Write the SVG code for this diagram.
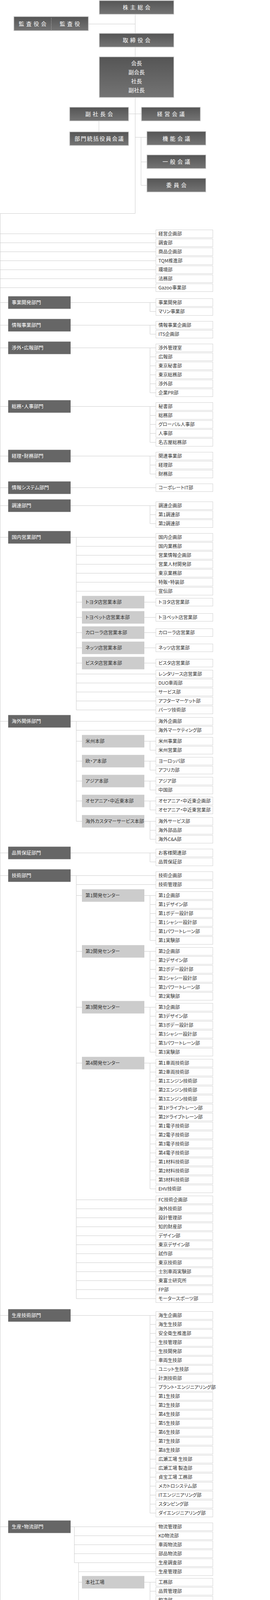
<svg xmlns="http://www.w3.org/2000/svg" width="692" height="5732" viewBox="0 0 692 5732">
<defs>
<linearGradient id="g" x1="0" y1="0" x2="0" y2="1"><stop offset="0" stop-color="#555"/><stop offset="1" stop-color="#747474"/></linearGradient>
<style>
text{font-family:'Noto Sans CJK JP','Noto Sans CJK SC',sans-serif;font-feature-settings:"palt"}
.tb{fill:url(#g);stroke:#ccc;stroke-width:1.5}
.tt{fill:#fff;font-size:14px;letter-spacing:5px;text-anchor:middle;font-feature-settings:normal}
.tn{fill:#fff;font-size:14px;text-anchor:middle}
.dp{fill:#666}
.dt{fill:#fff;font-size:12.5px}
.sb{fill:#ccc}
.st{fill:#333;font-size:12.2px}
.lf{fill:#fff;stroke:#d0d0d0;stroke-width:1}
.lt{fill:#333;font-size:12px}
.ln{fill:none;stroke:#ccc;stroke-width:1}
</style>
</defs>
<rect width="692" height="5732" fill="#fff"/>
<g id="connectors" class="ln">
<path d="M346.5 37V85M227 61.5H346.5M346.5 121V145M346.5 250V546.5H0.5M330 291.5H362M253.5 310V337M346.5 351.5H376M361.5 351.5V474.5H376M361.5 414.5H376"/>
<path d="M0.5 546.5V5713.5H399.5"/>
<path d="M0.5 598.5H399.5M0.5 621.5H399.5M0.5 644.5H399.5M0.5 667.5H399.5M0.5 690.5H399.5M0.5 713.5H399.5M0.5 736.5H399.5"/>
<path d="M0.5 774.5H21M181 774.5H399.5M384.5 774.5V797.5H399.5"/>
<path d="M0.5 832.5H21M181 832.5H399.5M384.5 832.5V855.5H399.5"/>
<path d="M0.5 890.5H21M181 890.5H399.5M384.5 890.5V1005.5H399.5M384.5 913.5H399.5M384.5 936.5H399.5M384.5 959.5H399.5M384.5 982.5H399.5"/>
<path d="M0.5 1040.5H21M181 1040.5H399.5M384.5 1040.5V1132.5H399.5M384.5 1063.5H399.5M384.5 1086.5H399.5M384.5 1109.5H399.5"/>
<path d="M0.5 1167.5H21M181 1167.5H399.5M384.5 1167.5V1213.5H399.5M384.5 1190.5H399.5"/>
<path d="M0.5 1248.5H21M181 1248.5H399.5"/>
<path d="M0.5 1294.5H21M181 1294.5H399.5M384.5 1294.5V1340.5H399.5M384.5 1317.5H399.5"/>
<path d="M0.5 1375.5H21M181 1375.5H399.5M195.5 1375.5V1817.5H399.5M195.5 1398.5H399.5M195.5 1421.5H399.5M195.5 1444.5H399.5M195.5 1467.5H399.5M195.5 1490.5H399.5M195.5 1513.5H399.5M195.5 1725.5H399.5M195.5 1748.5H399.5M195.5 1771.5H399.5M195.5 1794.5H399.5M195.5 1541.5H210M195.5 1580.5H210M195.5 1619.5H210M195.5 1658.5H210M195.5 1697.5H210M370 1541.5H399.5M370 1580.5H399.5M370 1619.5H399.5M370 1658.5H399.5M370 1697.5H399.5"/>
<path d="M0.5 1846.5H21M181 1846.5H399.5M195.5 1846.5V2102.5H210M195.5 1869.5H399.5M195.5 1897.5H210M195.5 1948.5H210M195.5 1999.5H210M195.5 2050.5H210M370 1897.5H399.5M384.5 1897.5V1920.5H399.5M370 1948.5H399.5M384.5 1948.5V1971.5H399.5M370 1999.5H399.5M384.5 1999.5V2022.5H399.5M370 2050.5H399.5M384.5 2050.5V2073.5H399.5M370 2102.5H399.5M384.5 2102.5V2148.5H399.5M384.5 2125.5H399.5"/>
<path d="M0.5 2183.5H21M181 2183.5H399.5M384.5 2183.5V2206.5H399.5"/>
<path d="M0.5 2241.5H21M181 2241.5H399.5M195.5 2241.5V3324.5H399.5M195.5 2264.5H399.5M195.5 2292.5H210M195.5 2435.5H210M195.5 2578.5H210M195.5 2721.5H210M195.5 3071.5H399.5M195.5 3094.5H399.5M195.5 3117.5H399.5M195.5 3140.5H399.5M195.5 3163.5H399.5M195.5 3186.5H399.5M195.5 3209.5H399.5M195.5 3232.5H399.5M195.5 3255.5H399.5M195.5 3278.5H399.5M195.5 3301.5H399.5"/>
<path d="M370 2292.5H399.5M384.5 2292.5V2407.5H399.5M384.5 2315.5H399.5M384.5 2338.5H399.5M384.5 2361.5H399.5M384.5 2384.5H399.5"/>
<path d="M370 2435.5H399.5M384.5 2435.5V2550.5H399.5M384.5 2458.5H399.5M384.5 2481.5H399.5M384.5 2504.5H399.5M384.5 2527.5H399.5"/>
<path d="M370 2578.5H399.5M384.5 2578.5V2693.5H399.5M384.5 2601.5H399.5M384.5 2624.5H399.5M384.5 2647.5H399.5M384.5 2670.5H399.5"/>
<path d="M370 2721.5H399.5M384.5 2721.5V3043.5H399.5M384.5 2744.5H399.5M384.5 2767.5H399.5M384.5 2790.5H399.5M384.5 2813.5H399.5M384.5 2836.5H399.5M384.5 2859.5H399.5M384.5 2882.5H399.5M384.5 2905.5H399.5M384.5 2928.5H399.5M384.5 2951.5H399.5M384.5 2974.5H399.5M384.5 2997.5H399.5M384.5 3020.5H399.5"/>
<path d="M0.5 3367.5H21M181 3367.5H399.5M384.5 3367.5V3873.5H399.5M384.5 3390.5H399.5M384.5 3413.5H399.5M384.5 3436.5H399.5M384.5 3459.5H399.5M384.5 3482.5H399.5M384.5 3505.5H399.5M384.5 3528.5H399.5M384.5 3551.5H399.5M384.5 3574.5H399.5M384.5 3597.5H399.5M384.5 3620.5H399.5M384.5 3643.5H399.5M384.5 3666.5H399.5M384.5 3689.5H399.5M384.5 3712.5H399.5M384.5 3735.5H399.5M384.5 3758.5H399.5M384.5 3781.5H399.5M384.5 3804.5H399.5M384.5 3827.5H399.5M384.5 3850.5H399.5"/>
<path d="M0.5 3908.5H21M181 3908.5H399.5M190.5 3908.5V4000.5H399.5M190.5 3931.5H399.5M190.5 3954.5H399.5M190.5 3977.5H399.5M201.5 4000.5V5085.5H210M201.5 4023.5H399.5M201.5 4050.5H210M201.5 4171.5H210M201.5 4314.5H210M201.5 4434.5H210M201.5 4554.5H210M201.5 4628.5H210M201.5 4794.5H210M201.5 4868.5H210M201.5 4965.5H210"/>
<path d="M370 4050.5H399.5M384.5 4050.5V4142.5H399.5M384.5 4073.5H399.5M384.5 4096.5H399.5M384.5 4119.5H399.5"/>
<path d="M370 4171.5H399.5M384.5 4171.5V4286.5H399.5M384.5 4194.5H399.5M384.5 4217.5H399.5M384.5 4240.5H399.5M384.5 4263.5H399.5"/>
<path d="M370 4314.5H399.5M384.5 4314.5V4406.5H399.5M384.5 4337.5H399.5M384.5 4360.5H399.5M384.5 4383.5H399.5"/>
<path d="M370 4434.5H399.5M384.5 4434.5V4526.5H399.5M384.5 4457.5H399.5M384.5 4480.5H399.5M384.5 4503.5H399.5"/>
<path d="M370 4554.5H399.5M384.5 4554.5V4600.5H399.5M384.5 4577.5H399.5"/>
<path d="M370 4628.5H399.5M384.5 4628.5V4766.5H399.5M384.5 4651.5H399.5M384.5 4674.5H399.5M384.5 4697.5H399.5M384.5 4720.5H399.5M384.5 4743.5H399.5"/>
<path d="M370 4794.5H399.5M384.5 4794.5V4840.5H399.5M384.5 4817.5H399.5"/>
<path d="M370 4868.5H399.5M384.5 4868.5V4937.5H399.5M384.5 4891.5H399.5M384.5 4914.5H399.5"/>
<path d="M370 4965.5H399.5M384.5 4965.5V5057.5H399.5M384.5 4988.5H399.5M384.5 5011.5H399.5M384.5 5034.5H399.5"/>
<path d="M370 5085.5H399.5M384.5 5085.5V5246.5H399.5M384.5 5108.5H399.5M384.5 5131.5H399.5M384.5 5154.5H399.5M384.5 5177.5H399.5M384.5 5200.5H399.5M384.5 5223.5H399.5"/>
<path d="M0.5 5281.5H21M181 5281.5H399.5M384.5 5281.5V5350.5H399.5M384.5 5304.5H399.5M384.5 5327.5H399.5"/>
<path d="M0.5 5385.5H21M181 5385.5H399.5M384.5 5385.5V5523.5H399.5M384.5 5408.5H399.5M384.5 5431.5H399.5M384.5 5454.5H399.5M384.5 5477.5H399.5M384.5 5500.5H399.5"/>
<path d="M0.5 5559.5H399.5M384.5 5559.5V5605.5H399.5M384.5 5582.5H399.5"/>
<path d="M0.5 5646.5H21M181 5646.5H399.5M384.5 5646.5V5669.5H399.5"/>
</g>
<g id="kabunushi"><rect class="tb" x="254.5" y="1.5" width="191" height="35"/><text class="tt" x="352.5" y="24">株主総会</text></g>
<g id="kansa"><rect class="tb" x="35.5" y="42.5" width="191" height="36"/><line x1="131.5" y1="46" x2="131.5" y2="76" stroke="#bbb" stroke-dasharray="2 2"/><text class="tt" x="86" y="66">監査役会</text><text class="tt" x="181.5" y="66">監査役</text></g>
<g id="torishimari"><rect class="tb" x="254.5" y="85.5" width="191" height="35"/><text class="tt" x="352.5" y="108">取締役会</text></g>
<g id="kaicho"><rect class="tb" x="254.5" y="145.5" width="191" height="104"/><text class="tn" x="350" y="167">会長</text><text class="tn" x="350" y="190">副会長</text><text class="tn" x="350" y="213">社長</text><text class="tn" x="350" y="236">副社長</text></g>
<g id="fukushacho"><rect class="tb" x="178.5" y="274.5" width="151" height="35"/><text class="tt" x="256.5" y="297">副社長会</text></g>
<g id="keiei"><rect class="tb" x="362.5" y="274.5" width="151" height="35"/><text class="tt" x="440.5" y="297">経営会議</text></g>
<g id="bumon"><rect class="tb" x="178.5" y="337.5" width="151" height="35"/><text class="tt" x="255" y="360" style="letter-spacing:2px">部門統括役員会議</text></g>
<g id="kino"><rect class="tb" x="376.5" y="336.5" width="151" height="35"/><text class="tt" x="454.5" y="359.5">機能会議</text></g>
<g id="ippan"><rect class="tb" x="376.5" y="396.5" width="151" height="35"/><text class="tt" x="454.5" y="419">一般会議</text></g>
<g id="iinkai"><rect class="tb" x="376.5" y="456.5" width="151" height="35"/><text class="tt" x="454.5" y="479">委員会</text></g>

<g id="d1"><rect class="dp" x="21" y="758.5" width="160" height="32"/><text class="dt" x="30" y="779">事業開発部門</text></g>
<g id="d2"><rect class="dp" x="21" y="816.5" width="160" height="32"/><text class="dt" x="30" y="837">情報事業部門</text></g>
<g id="d3"><rect class="dp" x="21" y="874.5" width="160" height="32"/><text class="dt" x="30" y="895">渉外・広報部門</text></g>
<g id="d4"><rect class="dp" x="21" y="1024.5" width="160" height="32"/><text class="dt" x="30" y="1045">総務・人事部門</text></g>
<g id="d5"><rect class="dp" x="21" y="1151.5" width="160" height="32"/><text class="dt" x="30" y="1172">経理・財務部門</text></g>
<g id="d6"><rect class="dp" x="21" y="1232.5" width="160" height="32"/><text class="dt" x="30" y="1253">情報システム部門</text></g>
<g id="d7"><rect class="dp" x="21" y="1278.5" width="160" height="32"/><text class="dt" x="30" y="1299">調達部門</text></g>
<g id="d8"><rect class="dp" x="21" y="1359.5" width="160" height="32"/><text class="dt" x="30" y="1380">国内営業部門</text></g>
<g id="d9"><rect class="dp" x="21" y="1830.5" width="160" height="32"/><text class="dt" x="30" y="1851">海外関係部門</text></g>
<g id="d10"><rect class="dp" x="21" y="2167.5" width="160" height="32"/><text class="dt" x="30" y="2188">品質保証部門</text></g>
<g id="d11"><rect class="dp" x="21" y="2225.5" width="160" height="32"/><text class="dt" x="30" y="2246">技術部門</text></g>
<g id="d12"><rect class="dp" x="21" y="3351.5" width="160" height="32"/><text class="dt" x="30" y="3372">生産技術部門</text></g>
<g id="d13"><rect class="dp" x="21" y="3892.5" width="160" height="32"/><text class="dt" x="30" y="3913">生産・物流部門</text></g>
<g id="d14"><rect class="dp" x="21" y="5265.5" width="160" height="32"/><text class="dt" x="30" y="5286">L&amp;F事業部門</text></g>
<g id="d15"><rect class="dp" x="21" y="5369.5" width="160" height="32"/><text class="dt" x="30" y="5390">住宅事業部門</text></g>
<g id="d16"><rect class="sb" x="21" y="5630.5" width="160" height="32"/><text class="st" x="30" y="5651">海外事務所</text></g>

<g id="s1"><rect class="sb" x="210" y="1525.5" width="160" height="32"/><text class="st" x="219" y="1546">トヨタ店営業本部</text></g>
<g id="s2"><rect class="sb" x="210" y="1564.5" width="160" height="32"/><text class="st" x="219" y="1585">トヨペット店営業本部</text></g>
<g id="s3"><rect class="sb" x="210" y="1603.5" width="160" height="32"/><text class="st" x="219" y="1624">カローラ店営業本部</text></g>
<g id="s4"><rect class="sb" x="210" y="1642.5" width="160" height="32"/><text class="st" x="219" y="1663">ネッツ店営業本部</text></g>
<g id="s5"><rect class="sb" x="210" y="1681.5" width="160" height="32"/><text class="st" x="219" y="1702">ビスタ店営業本部</text></g>
<g id="s6"><rect class="sb" x="210" y="1881.5" width="160" height="32"/><text class="st" x="219" y="1902">米州本部</text></g>
<g id="s7"><rect class="sb" x="210" y="1932.5" width="160" height="32"/><text class="st" x="219" y="1953">欧・ア本部</text></g>
<g id="s8"><rect class="sb" x="210" y="1983.5" width="160" height="32"/><text class="st" x="219" y="2004">アジア本部</text></g>
<g id="s9"><rect class="sb" x="210" y="2034.5" width="160" height="32"/><text class="st" x="219" y="2055">オセアニア・中近東本部</text></g>
<g id="s10"><rect class="sb" x="210" y="2086.5" width="160" height="32"/><text class="st" x="219" y="2107">海外カスタマーサービス本部</text></g>
<g id="s11"><rect class="sb" x="210" y="2276.5" width="160" height="32"/><text class="st" x="219" y="2297">第1開発センター</text></g>
<g id="s12"><rect class="sb" x="210" y="2419.5" width="160" height="32"/><text class="st" x="219" y="2440">第2開発センター</text></g>
<g id="s13"><rect class="sb" x="210" y="2562.5" width="160" height="32"/><text class="st" x="219" y="2583">第3開発センター</text></g>
<g id="s14"><rect class="sb" x="210" y="2705.5" width="160" height="32"/><text class="st" x="219" y="2726">第4開発センター</text></g>
<g id="s15"><rect class="sb" x="210" y="4034.5" width="160" height="32"/><text class="st" x="219" y="4055">本社工場</text></g>
<g id="s16"><rect class="sb" x="210" y="4155.5" width="160" height="32"/><text class="st" x="219" y="4176">元町工場</text></g>
<g id="s17"><rect class="sb" x="210" y="4298.5" width="160" height="32"/><text class="st" x="219" y="4319">上郷工場</text></g>
<g id="s18"><rect class="sb" x="210" y="4418.5" width="160" height="32"/><text class="st" x="219" y="4439">高岡工場</text></g>
<g id="s19"><rect class="sb" x="210" y="4538.5" width="160" height="32"/><text class="st" x="219" y="4559">三好工場</text></g>
<g id="s20"><rect class="sb" x="210" y="4612.5" width="160" height="32"/><text class="st" x="219" y="4633">堤工場</text></g>
<g id="s21"><rect class="sb" x="210" y="4778.5" width="160" height="32"/><text class="st" x="219" y="4799">明知工場</text></g>
<g id="s22"><rect class="sb" x="210" y="4852.5" width="160" height="32"/><text class="st" x="219" y="4873">下山工場</text></g>
<g id="s23"><rect class="sb" x="210" y="4949.5" width="160" height="32"/><text class="st" x="219" y="4970">衣浦工場</text></g>
<g id="s24"><rect class="sb" x="210" y="5069.5" width="160" height="32"/><text class="st" x="219" y="5090">田原工場</text></g>

<g id="l1"><rect class="lf" x="399.5" y="588.5" width="146" height="20"/><text class="lt" x="406" y="603">経営企画部</text></g>
<g id="l2"><rect class="lf" x="399.5" y="611.5" width="146" height="20"/><text class="lt" x="406" y="626">調査部</text></g>
<g id="l3"><rect class="lf" x="399.5" y="634.5" width="146" height="20"/><text class="lt" x="406" y="649">商品企画部</text></g>
<g id="l4"><rect class="lf" x="399.5" y="657.5" width="146" height="20"/><text class="lt" x="406" y="672">TQM推進部</text></g>
<g id="l5"><rect class="lf" x="399.5" y="680.5" width="146" height="20"/><text class="lt" x="406" y="695">環境部</text></g>
<g id="l6"><rect class="lf" x="399.5" y="703.5" width="146" height="20"/><text class="lt" x="406" y="718">法務部</text></g>
<g id="l7"><rect class="lf" x="399.5" y="726.5" width="146" height="20"/><text class="lt" x="406" y="741">Gazoo事業部</text></g>
<g id="l8"><rect class="lf" x="399.5" y="764.5" width="146" height="20"/><text class="lt" x="406" y="779">事業開発部</text></g>
<g id="l9"><rect class="lf" x="399.5" y="787.5" width="146" height="20"/><text class="lt" x="406" y="802">マリン事業部</text></g>
<g id="l10"><rect class="lf" x="399.5" y="822.5" width="146" height="20"/><text class="lt" x="406" y="837">情報事業企画部</text></g>
<g id="l11"><rect class="lf" x="399.5" y="845.5" width="146" height="20"/><text class="lt" x="406" y="860">ITS企画部</text></g>
<g id="l12"><rect class="lf" x="399.5" y="880.5" width="146" height="20"/><text class="lt" x="406" y="895">渉外管理室</text></g>
<g id="l13"><rect class="lf" x="399.5" y="903.5" width="146" height="20"/><text class="lt" x="406" y="918">広報部</text></g>
<g id="l14"><rect class="lf" x="399.5" y="926.5" width="146" height="20"/><text class="lt" x="406" y="941">東京秘書部</text></g>
<g id="l15"><rect class="lf" x="399.5" y="949.5" width="146" height="20"/><text class="lt" x="406" y="964">東京総務部</text></g>
<g id="l16"><rect class="lf" x="399.5" y="972.5" width="146" height="20"/><text class="lt" x="406" y="987">渉外部</text></g>
<g id="l17"><rect class="lf" x="399.5" y="995.5" width="146" height="20"/><text class="lt" x="406" y="1010">企業PR部</text></g>
<g id="l18"><rect class="lf" x="399.5" y="1030.5" width="146" height="20"/><text class="lt" x="406" y="1045">秘書部</text></g>
<g id="l19"><rect class="lf" x="399.5" y="1053.5" width="146" height="20"/><text class="lt" x="406" y="1068">総務部</text></g>
<g id="l20"><rect class="lf" x="399.5" y="1076.5" width="146" height="20"/><text class="lt" x="406" y="1091">グローバル人事部</text></g>
<g id="l21"><rect class="lf" x="399.5" y="1099.5" width="146" height="20"/><text class="lt" x="406" y="1114">人事部</text></g>
<g id="l22"><rect class="lf" x="399.5" y="1122.5" width="146" height="20"/><text class="lt" x="406" y="1137">名古屋総務部</text></g>
<g id="l23"><rect class="lf" x="399.5" y="1157.5" width="146" height="20"/><text class="lt" x="406" y="1172">関連事業部</text></g>
<g id="l24"><rect class="lf" x="399.5" y="1180.5" width="146" height="20"/><text class="lt" x="406" y="1195">経理部</text></g>
<g id="l25"><rect class="lf" x="399.5" y="1203.5" width="146" height="20"/><text class="lt" x="406" y="1218">財務部</text></g>
<g id="l26"><rect class="lf" x="399.5" y="1238.5" width="146" height="20"/><text class="lt" x="406" y="1253">コーポレートIT部</text></g>
<g id="l27"><rect class="lf" x="399.5" y="1284.5" width="146" height="20"/><text class="lt" x="406" y="1299">調達企画部</text></g>
<g id="l28"><rect class="lf" x="399.5" y="1307.5" width="146" height="20"/><text class="lt" x="406" y="1322">第1調達部</text></g>
<g id="l29"><rect class="lf" x="399.5" y="1330.5" width="146" height="20"/><text class="lt" x="406" y="1345">第2調達部</text></g>
<g id="l30"><rect class="lf" x="399.5" y="1365.5" width="146" height="20"/><text class="lt" x="406" y="1380">国内企画部</text></g>
<g id="l31"><rect class="lf" x="399.5" y="1388.5" width="146" height="20"/><text class="lt" x="406" y="1403">国内業務部</text></g>
<g id="l32"><rect class="lf" x="399.5" y="1411.5" width="146" height="20"/><text class="lt" x="406" y="1426">営業情報企画部</text></g>
<g id="l33"><rect class="lf" x="399.5" y="1434.5" width="146" height="20"/><text class="lt" x="406" y="1449">営業人材開発部</text></g>
<g id="l34"><rect class="lf" x="399.5" y="1457.5" width="146" height="20"/><text class="lt" x="406" y="1472">東京業務部</text></g>
<g id="l35"><rect class="lf" x="399.5" y="1480.5" width="146" height="20"/><text class="lt" x="406" y="1495">特販・特装部</text></g>
<g id="l36"><rect class="lf" x="399.5" y="1503.5" width="146" height="20"/><text class="lt" x="406" y="1518">宣伝部</text></g>
<g id="l37"><rect class="lf" x="399.5" y="1531.5" width="146" height="20"/><text class="lt" x="406" y="1546">トヨタ店営業部</text></g>
<g id="l38"><rect class="lf" x="399.5" y="1570.5" width="146" height="20"/><text class="lt" x="406" y="1585">トヨペット店営業部</text></g>
<g id="l39"><rect class="lf" x="399.5" y="1609.5" width="146" height="20"/><text class="lt" x="406" y="1624">カローラ店営業部</text></g>
<g id="l40"><rect class="lf" x="399.5" y="1648.5" width="146" height="20"/><text class="lt" x="406" y="1663">ネッツ店営業部</text></g>
<g id="l41"><rect class="lf" x="399.5" y="1687.5" width="146" height="20"/><text class="lt" x="406" y="1702">ビスタ店営業部</text></g>
<g id="l42"><rect class="lf" x="399.5" y="1715.5" width="146" height="20"/><text class="lt" x="406" y="1730">レンタリース店営業部</text></g>
<g id="l43"><rect class="lf" x="399.5" y="1738.5" width="146" height="20"/><text class="lt" x="406" y="1753">DUO車両部</text></g>
<g id="l44"><rect class="lf" x="399.5" y="1761.5" width="146" height="20"/><text class="lt" x="406" y="1776">サービス部</text></g>
<g id="l45"><rect class="lf" x="399.5" y="1784.5" width="146" height="20"/><text class="lt" x="406" y="1799">アフターマーケット部</text></g>
<g id="l46"><rect class="lf" x="399.5" y="1807.5" width="146" height="20"/><text class="lt" x="406" y="1822">パーツ技術部</text></g>
<g id="l47"><rect class="lf" x="399.5" y="1836.5" width="146" height="20"/><text class="lt" x="406" y="1851">海外企画部</text></g>
<g id="l48"><rect class="lf" x="399.5" y="1859.5" width="146" height="20"/><text class="lt" x="406" y="1874">海外マーケティング部</text></g>
<g id="l49"><rect class="lf" x="399.5" y="1887.5" width="146" height="20"/><text class="lt" x="406" y="1902">米州事業部</text></g>
<g id="l50"><rect class="lf" x="399.5" y="1910.5" width="146" height="20"/><text class="lt" x="406" y="1925">米州営業部</text></g>
<g id="l51"><rect class="lf" x="399.5" y="1938.5" width="146" height="20"/><text class="lt" x="406" y="1953">ヨーロッパ部</text></g>
<g id="l52"><rect class="lf" x="399.5" y="1961.5" width="146" height="20"/><text class="lt" x="406" y="1976">アフリカ部</text></g>
<g id="l53"><rect class="lf" x="399.5" y="1989.5" width="146" height="20"/><text class="lt" x="406" y="2004">アジア部</text></g>
<g id="l54"><rect class="lf" x="399.5" y="2012.5" width="146" height="20"/><text class="lt" x="406" y="2027">中国部</text></g>
<g id="l55"><rect class="lf" x="399.5" y="2040.5" width="146" height="20"/><text class="lt" x="406" y="2055">オセアニア・中近東企画部</text></g>
<g id="l56"><rect class="lf" x="399.5" y="2063.5" width="146" height="20"/><text class="lt" x="406" y="2078">オセアニア・中近東営業部</text></g>
<g id="l57"><rect class="lf" x="399.5" y="2092.5" width="146" height="20"/><text class="lt" x="406" y="2107">海外サービス部</text></g>
<g id="l58"><rect class="lf" x="399.5" y="2115.5" width="146" height="20"/><text class="lt" x="406" y="2130">海外部品部</text></g>
<g id="l59"><rect class="lf" x="399.5" y="2138.5" width="146" height="20"/><text class="lt" x="406" y="2153">海外C&amp;A部</text></g>
<g id="l60"><rect class="lf" x="399.5" y="2173.5" width="146" height="20"/><text class="lt" x="406" y="2188">お客様関連部</text></g>
<g id="l61"><rect class="lf" x="399.5" y="2196.5" width="146" height="20"/><text class="lt" x="406" y="2211">品質保証部</text></g>
<g id="l62"><rect class="lf" x="399.5" y="2231.5" width="146" height="20"/><text class="lt" x="406" y="2246">技術企画部</text></g>
<g id="l63"><rect class="lf" x="399.5" y="2254.5" width="146" height="20"/><text class="lt" x="406" y="2269">技術管理部</text></g>
<g id="l64"><rect class="lf" x="399.5" y="2282.5" width="146" height="20"/><text class="lt" x="406" y="2297">第1企画部</text></g>
<g id="l65"><rect class="lf" x="399.5" y="2305.5" width="146" height="20"/><text class="lt" x="406" y="2320">第1デザイン部</text></g>
<g id="l66"><rect class="lf" x="399.5" y="2328.5" width="146" height="20"/><text class="lt" x="406" y="2343">第1ボデー設計部</text></g>
<g id="l67"><rect class="lf" x="399.5" y="2351.5" width="146" height="20"/><text class="lt" x="406" y="2366">第1シャシー設計部</text></g>
<g id="l68"><rect class="lf" x="399.5" y="2374.5" width="146" height="20"/><text class="lt" x="406" y="2389">第1パワートレーン部</text></g>
<g id="l69"><rect class="lf" x="399.5" y="2397.5" width="146" height="20"/><text class="lt" x="406" y="2412">第1実験部</text></g>
<g id="l70"><rect class="lf" x="399.5" y="2425.5" width="146" height="20"/><text class="lt" x="406" y="2440">第2企画部</text></g>
<g id="l71"><rect class="lf" x="399.5" y="2448.5" width="146" height="20"/><text class="lt" x="406" y="2463">第2デザイン部</text></g>
<g id="l72"><rect class="lf" x="399.5" y="2471.5" width="146" height="20"/><text class="lt" x="406" y="2486">第2ボデー設計部</text></g>
<g id="l73"><rect class="lf" x="399.5" y="2494.5" width="146" height="20"/><text class="lt" x="406" y="2509">第2シャシー設計部</text></g>
<g id="l74"><rect class="lf" x="399.5" y="2517.5" width="146" height="20"/><text class="lt" x="406" y="2532">第2パワートレーン部</text></g>
<g id="l75"><rect class="lf" x="399.5" y="2540.5" width="146" height="20"/><text class="lt" x="406" y="2555">第2実験部</text></g>
<g id="l76"><rect class="lf" x="399.5" y="2568.5" width="146" height="20"/><text class="lt" x="406" y="2583">第3企画部</text></g>
<g id="l77"><rect class="lf" x="399.5" y="2591.5" width="146" height="20"/><text class="lt" x="406" y="2606">第3デザイン部</text></g>
<g id="l78"><rect class="lf" x="399.5" y="2614.5" width="146" height="20"/><text class="lt" x="406" y="2629">第3ボデー設計部</text></g>
<g id="l79"><rect class="lf" x="399.5" y="2637.5" width="146" height="20"/><text class="lt" x="406" y="2652">第3シャシー設計部</text></g>
<g id="l80"><rect class="lf" x="399.5" y="2660.5" width="146" height="20"/><text class="lt" x="406" y="2675">第3パワートレーン部</text></g>
<g id="l81"><rect class="lf" x="399.5" y="2683.5" width="146" height="20"/><text class="lt" x="406" y="2698">第3実験部</text></g>
<g id="l82"><rect class="lf" x="399.5" y="2711.5" width="146" height="20"/><text class="lt" x="406" y="2726">第1車両技術部</text></g>
<g id="l83"><rect class="lf" x="399.5" y="2734.5" width="146" height="20"/><text class="lt" x="406" y="2749">第2車両技術部</text></g>
<g id="l84"><rect class="lf" x="399.5" y="2757.5" width="146" height="20"/><text class="lt" x="406" y="2772">第1エンジン技術部</text></g>
<g id="l85"><rect class="lf" x="399.5" y="2780.5" width="146" height="20"/><text class="lt" x="406" y="2795">第2エンジン技術部</text></g>
<g id="l86"><rect class="lf" x="399.5" y="2803.5" width="146" height="20"/><text class="lt" x="406" y="2818">第3エンジン技術部</text></g>
<g id="l87"><rect class="lf" x="399.5" y="2826.5" width="146" height="20"/><text class="lt" x="406" y="2841">第1ドライブトレーン部</text></g>
<g id="l88"><rect class="lf" x="399.5" y="2849.5" width="146" height="20"/><text class="lt" x="406" y="2864">第2ドライブトレーン部</text></g>
<g id="l89"><rect class="lf" x="399.5" y="2872.5" width="146" height="20"/><text class="lt" x="406" y="2887">第1電子技術部</text></g>
<g id="l90"><rect class="lf" x="399.5" y="2895.5" width="146" height="20"/><text class="lt" x="406" y="2910">第2電子技術部</text></g>
<g id="l91"><rect class="lf" x="399.5" y="2918.5" width="146" height="20"/><text class="lt" x="406" y="2933">第3電子技術部</text></g>
<g id="l92"><rect class="lf" x="399.5" y="2941.5" width="146" height="20"/><text class="lt" x="406" y="2956">第4電子技術部</text></g>
<g id="l93"><rect class="lf" x="399.5" y="2964.5" width="146" height="20"/><text class="lt" x="406" y="2979">第1材料技術部</text></g>
<g id="l94"><rect class="lf" x="399.5" y="2987.5" width="146" height="20"/><text class="lt" x="406" y="3002">第2材料技術部</text></g>
<g id="l95"><rect class="lf" x="399.5" y="3010.5" width="146" height="20"/><text class="lt" x="406" y="3025">第3材料技術部</text></g>
<g id="l96"><rect class="lf" x="399.5" y="3033.5" width="146" height="20"/><text class="lt" x="406" y="3048">EHV技術部</text></g>
<g id="l97"><rect class="lf" x="399.5" y="3061.5" width="146" height="20"/><text class="lt" x="406" y="3076">FC技術企画部</text></g>
<g id="l98"><rect class="lf" x="399.5" y="3084.5" width="146" height="20"/><text class="lt" x="406" y="3099">海外技術部</text></g>
<g id="l99"><rect class="lf" x="399.5" y="3107.5" width="146" height="20"/><text class="lt" x="406" y="3122">設計管理部</text></g>
<g id="l100"><rect class="lf" x="399.5" y="3130.5" width="146" height="20"/><text class="lt" x="406" y="3145">知的財産部</text></g>
<g id="l101"><rect class="lf" x="399.5" y="3153.5" width="146" height="20"/><text class="lt" x="406" y="3168">デザイン部</text></g>
<g id="l102"><rect class="lf" x="399.5" y="3176.5" width="146" height="20"/><text class="lt" x="406" y="3191">東京デザイン部</text></g>
<g id="l103"><rect class="lf" x="399.5" y="3199.5" width="146" height="20"/><text class="lt" x="406" y="3214">試作部</text></g>
<g id="l104"><rect class="lf" x="399.5" y="3222.5" width="146" height="20"/><text class="lt" x="406" y="3237">東京技術部</text></g>
<g id="l105"><rect class="lf" x="399.5" y="3245.5" width="146" height="20"/><text class="lt" x="406" y="3260">士別車両実験部</text></g>
<g id="l106"><rect class="lf" x="399.5" y="3268.5" width="146" height="20"/><text class="lt" x="406" y="3283">東富士研究所</text></g>
<g id="l107"><rect class="lf" x="399.5" y="3291.5" width="146" height="20"/><text class="lt" x="406" y="3306">FP部</text></g>
<g id="l108"><rect class="lf" x="399.5" y="3314.5" width="146" height="20"/><text class="lt" x="406" y="3329">モータースポーツ部</text></g>
<g id="l109"><rect class="lf" x="399.5" y="3357.5" width="146" height="20"/><text class="lt" x="406" y="3372">海生企画部</text></g>
<g id="l110"><rect class="lf" x="399.5" y="3380.5" width="146" height="20"/><text class="lt" x="406" y="3395">海生生技部</text></g>
<g id="l111"><rect class="lf" x="399.5" y="3403.5" width="146" height="20"/><text class="lt" x="406" y="3418">安全衛生推進部</text></g>
<g id="l112"><rect class="lf" x="399.5" y="3426.5" width="146" height="20"/><text class="lt" x="406" y="3441">生技管理部</text></g>
<g id="l113"><rect class="lf" x="399.5" y="3449.5" width="146" height="20"/><text class="lt" x="406" y="3464">生技開発部</text></g>
<g id="l114"><rect class="lf" x="399.5" y="3472.5" width="146" height="20"/><text class="lt" x="406" y="3487">車両生技部</text></g>
<g id="l115"><rect class="lf" x="399.5" y="3495.5" width="146" height="20"/><text class="lt" x="406" y="3510">ユニット生技部</text></g>
<g id="l116"><rect class="lf" x="399.5" y="3518.5" width="146" height="20"/><text class="lt" x="406" y="3533">計測技術部</text></g>
<g id="l117"><rect class="lf" x="399.5" y="3541.5" width="146" height="20"/><text class="lt" x="406" y="3556">プラント・エンジニアリング部</text></g>
<g id="l118"><rect class="lf" x="399.5" y="3564.5" width="146" height="20"/><text class="lt" x="406" y="3579">第1生技部</text></g>
<g id="l119"><rect class="lf" x="399.5" y="3587.5" width="146" height="20"/><text class="lt" x="406" y="3602">第2生技部</text></g>
<g id="l120"><rect class="lf" x="399.5" y="3610.5" width="146" height="20"/><text class="lt" x="406" y="3625">第4生技部</text></g>
<g id="l121"><rect class="lf" x="399.5" y="3633.5" width="146" height="20"/><text class="lt" x="406" y="3648">第5生技部</text></g>
<g id="l122"><rect class="lf" x="399.5" y="3656.5" width="146" height="20"/><text class="lt" x="406" y="3671">第6生技部</text></g>
<g id="l123"><rect class="lf" x="399.5" y="3679.5" width="146" height="20"/><text class="lt" x="406" y="3694">第7生技部</text></g>
<g id="l124"><rect class="lf" x="399.5" y="3702.5" width="146" height="20"/><text class="lt" x="406" y="3717">第8生技部</text></g>
<g id="l125"><rect class="lf" x="399.5" y="3725.5" width="146" height="20"/><text class="lt" x="406" y="3740">広瀬工場 生技部</text></g>
<g id="l126"><rect class="lf" x="399.5" y="3748.5" width="146" height="20"/><text class="lt" x="406" y="3763">広瀬工場 製造部</text></g>
<g id="l127"><rect class="lf" x="399.5" y="3771.5" width="146" height="20"/><text class="lt" x="406" y="3786">貞宝工場 工務部</text></g>
<g id="l128"><rect class="lf" x="399.5" y="3794.5" width="146" height="20"/><text class="lt" x="406" y="3809">メカトロシステム部</text></g>
<g id="l129"><rect class="lf" x="399.5" y="3817.5" width="146" height="20"/><text class="lt" x="406" y="3832">ITエンジニアリング部</text></g>
<g id="l130"><rect class="lf" x="399.5" y="3840.5" width="146" height="20"/><text class="lt" x="406" y="3855">スタンピング部</text></g>
<g id="l131"><rect class="lf" x="399.5" y="3863.5" width="146" height="20"/><text class="lt" x="406" y="3878">ダイエンジニアリング部</text></g>
<g id="l132"><rect class="lf" x="399.5" y="3898.5" width="146" height="20"/><text class="lt" x="406" y="3913">物流管理部</text></g>
<g id="l133"><rect class="lf" x="399.5" y="3921.5" width="146" height="20"/><text class="lt" x="406" y="3936">KD物流部</text></g>
<g id="l134"><rect class="lf" x="399.5" y="3944.5" width="146" height="20"/><text class="lt" x="406" y="3959">車両物流部</text></g>
<g id="l135"><rect class="lf" x="399.5" y="3967.5" width="146" height="20"/><text class="lt" x="406" y="3982">部品物流部</text></g>
<g id="l136"><rect class="lf" x="399.5" y="3990.5" width="146" height="20"/><text class="lt" x="406" y="4005">生産調査部</text></g>
<g id="l137"><rect class="lf" x="399.5" y="4013.5" width="146" height="20"/><text class="lt" x="406" y="4028">生産管理部</text></g>
<g id="l138"><rect class="lf" x="399.5" y="4040.5" width="146" height="20"/><text class="lt" x="406" y="4055">工務部</text></g>
<g id="l139"><rect class="lf" x="399.5" y="4063.5" width="146" height="20"/><text class="lt" x="406" y="4078">品質管理部</text></g>
<g id="l140"><rect class="lf" x="399.5" y="4086.5" width="146" height="20"/><text class="lt" x="406" y="4101">鍛造部</text></g>
<g id="l141"><rect class="lf" x="399.5" y="4109.5" width="146" height="20"/><text class="lt" x="406" y="4124">機械部</text></g>
<g id="l142"><rect class="lf" x="399.5" y="4132.5" width="146" height="20"/><text class="lt" x="406" y="4147">シャシー製造部</text></g>
<g id="l143"><rect class="lf" x="399.5" y="4161.5" width="146" height="20"/><text class="lt" x="406" y="4176">工務部</text></g>
<g id="l144"><rect class="lf" x="399.5" y="4184.5" width="146" height="20"/><text class="lt" x="406" y="4199">品質管理部</text></g>
<g id="l145"><rect class="lf" x="399.5" y="4207.5" width="146" height="20"/><text class="lt" x="406" y="4222">車体部</text></g>
<g id="l146"><rect class="lf" x="399.5" y="4230.5" width="146" height="20"/><text class="lt" x="406" y="4245">機械部</text></g>
<g id="l147"><rect class="lf" x="399.5" y="4253.5" width="146" height="20"/><text class="lt" x="406" y="4268">成形部</text></g>
<g id="l148"><rect class="lf" x="399.5" y="4276.5" width="146" height="20"/><text class="lt" x="406" y="4291">総組立部</text></g>
<g id="l149"><rect class="lf" x="399.5" y="4304.5" width="146" height="20"/><text class="lt" x="406" y="4319">工務部</text></g>
<g id="l150"><rect class="lf" x="399.5" y="4327.5" width="146" height="20"/><text class="lt" x="406" y="4342">製造エンジニアリング部</text></g>
<g id="l151"><rect class="lf" x="399.5" y="4350.5" width="146" height="20"/><text class="lt" x="406" y="4365">鋳造部</text></g>
<g id="l152"><rect class="lf" x="399.5" y="4373.5" width="146" height="20"/><text class="lt" x="406" y="4388">第1機械部</text></g>
<g id="l153"><rect class="lf" x="399.5" y="4396.5" width="146" height="20"/><text class="lt" x="406" y="4411">第2機械部</text></g>
<g id="l154"><rect class="lf" x="399.5" y="4424.5" width="146" height="20"/><text class="lt" x="406" y="4439">工務部</text></g>
<g id="l155"><rect class="lf" x="399.5" y="4447.5" width="146" height="20"/><text class="lt" x="406" y="4462">品質管理部</text></g>
<g id="l156"><rect class="lf" x="399.5" y="4470.5" width="146" height="20"/><text class="lt" x="406" y="4485">車体部</text></g>
<g id="l157"><rect class="lf" x="399.5" y="4493.5" width="146" height="20"/><text class="lt" x="406" y="4508">塗装・成形部</text></g>
<g id="l158"><rect class="lf" x="399.5" y="4516.5" width="146" height="20"/><text class="lt" x="406" y="4531">組立部</text></g>
<g id="l159"><rect class="lf" x="399.5" y="4544.5" width="146" height="20"/><text class="lt" x="406" y="4559">工務部</text></g>
<g id="l160"><rect class="lf" x="399.5" y="4567.5" width="146" height="20"/><text class="lt" x="406" y="4582">第1機械部</text></g>
<g id="l161"><rect class="lf" x="399.5" y="4590.5" width="146" height="20"/><text class="lt" x="406" y="4605">第2機械部</text></g>
<g id="l162"><rect class="lf" x="399.5" y="4618.5" width="146" height="20"/><text class="lt" x="406" y="4633">工務部</text></g>
<g id="l163"><rect class="lf" x="399.5" y="4641.5" width="146" height="20"/><text class="lt" x="406" y="4656">品質管理部</text></g>
<g id="l164"><rect class="lf" x="399.5" y="4664.5" width="146" height="20"/><text class="lt" x="406" y="4679">機械部</text></g>
<g id="l165"><rect class="lf" x="399.5" y="4687.5" width="146" height="20"/><text class="lt" x="406" y="4702">車体部</text></g>
<g id="l166"><rect class="lf" x="399.5" y="4710.5" width="146" height="20"/><text class="lt" x="406" y="4725">成形部</text></g>
<g id="l167"><rect class="lf" x="399.5" y="4733.5" width="146" height="20"/><text class="lt" x="406" y="4748">塗装部</text></g>
<g id="l168"><rect class="lf" x="399.5" y="4756.5" width="146" height="20"/><text class="lt" x="406" y="4771">組立部</text></g>
<g id="l169"><rect class="lf" x="399.5" y="4784.5" width="146" height="20"/><text class="lt" x="406" y="4799">工務部</text></g>
<g id="l170"><rect class="lf" x="399.5" y="4807.5" width="146" height="20"/><text class="lt" x="406" y="4822">鋳造部</text></g>
<g id="l171"><rect class="lf" x="399.5" y="4830.5" width="146" height="20"/><text class="lt" x="406" y="4845">機械部</text></g>
<g id="l172"><rect class="lf" x="399.5" y="4858.5" width="146" height="20"/><text class="lt" x="406" y="4873">工務部</text></g>
<g id="l173"><rect class="lf" x="399.5" y="4881.5" width="146" height="20"/><text class="lt" x="406" y="4896">製造エンジニアリング部</text></g>
<g id="l174"><rect class="lf" x="399.5" y="4904.5" width="146" height="20"/><text class="lt" x="406" y="4919">第1機械部</text></g>
<g id="l175"><rect class="lf" x="399.5" y="4927.5" width="146" height="20"/><text class="lt" x="406" y="4942">第2機械部</text></g>
<g id="l176"><rect class="lf" x="399.5" y="4955.5" width="146" height="20"/><text class="lt" x="406" y="4970">工務部</text></g>
<g id="l177"><rect class="lf" x="399.5" y="4978.5" width="146" height="20"/><text class="lt" x="406" y="4993">製造エンジニアリング部</text></g>
<g id="l178"><rect class="lf" x="399.5" y="5001.5" width="146" height="20"/><text class="lt" x="406" y="5016">鋳鍛造部</text></g>
<g id="l179"><rect class="lf" x="399.5" y="5024.5" width="146" height="20"/><text class="lt" x="406" y="5039">第1機械部</text></g>
<g id="l180"><rect class="lf" x="399.5" y="5047.5" width="146" height="20"/><text class="lt" x="406" y="5062">第2機械部</text></g>
<g id="l181"><rect class="lf" x="399.5" y="5075.5" width="146" height="20"/><text class="lt" x="406" y="5090">工務部</text></g>
<g id="l182"><rect class="lf" x="399.5" y="5098.5" width="146" height="20"/><text class="lt" x="406" y="5113">品質管理部</text></g>
<g id="l183"><rect class="lf" x="399.5" y="5121.5" width="146" height="20"/><text class="lt" x="406" y="5136">機械部</text></g>
<g id="l184"><rect class="lf" x="399.5" y="5144.5" width="146" height="20"/><text class="lt" x="406" y="5159">成形部</text></g>
<g id="l185"><rect class="lf" x="399.5" y="5167.5" width="146" height="20"/><text class="lt" x="406" y="5182">車体部</text></g>
<g id="l186"><rect class="lf" x="399.5" y="5190.5" width="146" height="20"/><text class="lt" x="406" y="5205">第1製造部</text></g>
<g id="l187"><rect class="lf" x="399.5" y="5213.5" width="146" height="20"/><text class="lt" x="406" y="5228">第2製造部</text></g>
<g id="l188"><rect class="lf" x="399.5" y="5236.5" width="146" height="20"/><text class="lt" x="406" y="5251">第3製造部</text></g>
<g id="l189"><rect class="lf" x="399.5" y="5271.5" width="146" height="20"/><text class="lt" x="406" y="5286">L&amp;F企画部</text></g>
<g id="l190"><rect class="lf" x="399.5" y="5294.5" width="146" height="20"/><text class="lt" x="406" y="5309">L&amp;F国内営業部</text></g>
<g id="l191"><rect class="lf" x="399.5" y="5317.5" width="146" height="20"/><text class="lt" x="406" y="5332">物流エンジニアリング部</text></g>
<g id="l192"><rect class="lf" x="399.5" y="5340.5" width="146" height="20"/><text class="lt" x="406" y="5355">海外産業車両部</text></g>
<g id="l193"><rect class="lf" x="399.5" y="5375.5" width="146" height="20"/><text class="lt" x="406" y="5390">住宅企画部</text></g>
<g id="l194"><rect class="lf" x="399.5" y="5398.5" width="146" height="20"/><text class="lt" x="406" y="5413">住宅営業部</text></g>
<g id="l195"><rect class="lf" x="399.5" y="5421.5" width="146" height="20"/><text class="lt" x="406" y="5436">住宅開発部</text></g>
<g id="l196"><rect class="lf" x="399.5" y="5444.5" width="146" height="20"/><text class="lt" x="406" y="5459">住宅生産部</text></g>
<g id="l197"><rect class="lf" x="399.5" y="5467.5" width="146" height="20"/><text class="lt" x="406" y="5482">春日井事業所</text></g>
<g id="l198"><rect class="lf" x="399.5" y="5490.5" width="146" height="20"/><text class="lt" x="406" y="5505">栃木事業所</text></g>
<g id="l199"><rect class="lf" x="399.5" y="5513.5" width="146" height="20"/><text class="lt" x="406" y="5528">山梨事業所</text></g>
<g id="l200"><rect class="lf" x="399.5" y="5549.5" width="146" height="20"/><text class="lt" x="406" y="5564">トヨタ工業学園</text></g>
<g id="l201"><rect class="lf" x="399.5" y="5572.5" width="146" height="20"/><text class="lt" x="406" y="5587">トヨタ記念病院</text></g>
<g id="l202"><rect class="lf" x="399.5" y="5595.5" width="146" height="20"/><text class="lt" x="406" y="5610">歴史文化部</text></g>
<g id="l203"><rect class="lf" x="399.5" y="5636.5" width="146" height="20"/><text class="lt" x="406" y="5651">台湾事務所</text></g>
<g id="l204"><rect class="lf" x="399.5" y="5659.5" width="146" height="20"/><text class="lt" x="406" y="5674">中国事務所</text></g>
<g id="l205"><rect class="lf" x="399.5" y="5695.5" width="146" height="36"/><text class="lt" x="406" y="5710.5">VVC (ヴァーチャル・ベン</text><text class="lt" x="406" y="5725">チャー・カンパニー)</text></g>
</svg>
